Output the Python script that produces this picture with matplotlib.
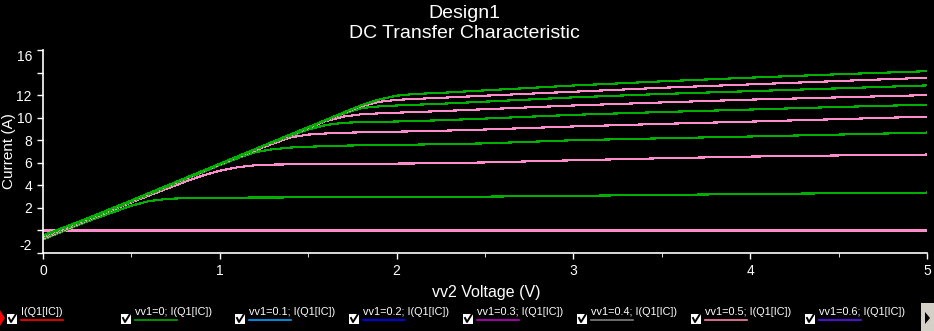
# -*- coding: utf-8 -*-
"""DC transfer characteristic of Design1, black scope-style plot."""

import matplotlib
matplotlib.use("Agg")
import matplotlib.pyplot as plt
from matplotlib.lines import Line2D
from matplotlib.patches import Rectangle, Polygon

plt.rcParams['font.family'] = ['Liberation Sans', 'DejaVu Sans']

# sweep voltage vv2 (V)
v_sweep = [0, 0.25, 0.5, 0.6, 0.7, 0.8, 0.9, 1.0, 1.1, 1.2, 1.3, 1.4, 1.5,
           1.6, 1.7, 1.8, 1.9, 2.0, 2.1, 2.25, 2.5, 3.0, 3.5, 4.0, 4.5, 5.0]

# collector currents (A), bottom curve first
i_c0 = [0.0] * len(v_sweep)
i_c1 = [-0.8, 0.8, 2.2, 2.6, 2.8, 2.86, 2.89, 2.9, 2.91, 2.92, 2.92, 2.93,
        2.93, 2.94, 2.94, 2.95, 2.95, 2.96, 2.97, 2.98, 3.0, 3.07, 3.15,
        3.23, 3.3, 3.36]
i_c2 = [-0.72, 0.9, 2.5, 3.1, 3.7, 4.3, 4.85, 5.3, 5.6, 5.78, 5.84, 5.86,
        5.88, 5.89, 5.9, 5.91, 5.92, 5.93, 5.94, 5.97, 6.03, 6.22, 6.4,
        6.55, 6.65, 6.73]
i_c3 = [-0.65, 0.95, 2.55, 3.2, 3.85, 4.5, 5.15, 5.8, 6.4, 6.95, 7.2, 7.35,
        7.42, 7.48, 7.52, 7.55, 7.57, 7.59, 7.61, 7.65, 7.72, 8.0, 8.17,
        8.33, 8.5, 8.68]
i_c4 = [-0.6, 1.0, 2.6, 3.25, 3.9, 4.55, 5.2, 5.85, 6.5, 7.1, 7.7, 8.25,
        8.5, 8.6, 8.66, 8.7, 8.73, 8.76, 8.79, 8.84, 8.95, 9.22, 9.45, 9.65,
        9.87, 10.09]
i_c5 = [-0.58, 1.0, 2.6, 3.25, 3.9, 4.55, 5.2, 5.85, 6.5, 7.15, 7.8, 8.4,
        8.95, 9.35, 9.55, 9.6, 9.63, 9.66, 9.7, 9.77, 9.92, 10.25, 10.5,
        10.72, 10.95, 11.15]
i_c6 = [-0.55, 1.02, 2.62, 3.27, 3.92, 4.57, 5.22, 5.87, 6.52, 7.17, 7.82,
        8.45, 9.08, 9.7, 10.1, 10.3, 10.38, 10.44, 10.5, 10.58, 10.75, 11.08,
        11.35, 11.6, 11.8, 12.0]
i_c7 = [-0.52, 1.03, 2.63, 3.28, 3.93, 4.58, 5.23, 5.88, 6.53, 7.18, 7.83,
        8.47, 9.1, 9.75, 10.35, 10.85, 11.0, 11.08, 11.14, 11.23, 11.42,
        11.8, 12.1, 12.35, 12.6, 12.86]
i_c8 = [-0.48, 1.05, 2.65, 3.3, 3.95, 4.6, 5.25, 5.9, 6.55, 7.2, 7.85, 8.5,
        9.13, 9.78, 10.42, 11.02, 11.4, 11.58, 11.66, 11.76, 11.95, 12.3,
        12.65, 12.95, 13.25, 13.54]
i_c9 = [-0.45, 1.06, 2.66, 3.31, 3.96, 4.61, 5.26, 5.91, 6.56, 7.21, 7.86,
        8.51, 9.15, 9.8, 10.45, 11.1, 11.6, 11.95, 12.1, 12.2, 12.42, 12.85,
        13.22, 13.55, 13.85, 14.12]

curves = [i_c0, i_c1, i_c2, i_c3, i_c4, i_c5, i_c6, i_c7, i_c8, i_c9]

y_ticks = [-2, 0, 2, 4, 6, 8, 10, 12, 14, 16]
y_labels = ['-2', '', '2', '4', '6', '8', '10', '12', '', '16']

legend_labels = ['I(Q1[IC])', 'vv1=0; I(Q1[IC])', 'vv1=0.1; I(Q1[IC])',
                 'vv1=0.2; I(Q1[IC])', 'vv1=0.3; I(Q1[IC])',
                 'vv1=0.4; I(Q1[IC])', 'vv1=0.5; I(Q1[IC])',
                 'vv1=0.6; I(Q1[IC])']
legend_colors = ['#ff0000', '#00a800', '#00a2ff', '#0000ff', '#c000c0',
                 '#808080', '#ff80a8', '#6010ff']

W, H = 934, 331


def px(x, y):
    """Pixel position (from top-left) to figure fraction."""
    return x / W, 1 - y / H


def main():
    fig = plt.figure(figsize=(W / 100, H / 100), dpi=100, facecolor='black')
    ax = fig.add_axes([43 / W, 1 - 253 / H, 884 / W, 203 / H])
    ax.set_facecolor('black')

    green = '#00b000'
    pink = '#ff8ccc'
    for k, cur in enumerate(curves):
        ax.plot(v_sweep, cur, color=pink if k % 2 == 0 else green,
                lw=0.8, antialiased=False, solid_capstyle='butt')

    ax.set_xlim(0, 5)
    ax.set_ylim(-2, 16)
    ax.set_xticks([0, 1, 2, 3, 4, 5])
    ax.set_xticks([0.5, 1.5, 2.5, 3.5, 4.5], minor=True)
    ax.set_yticks(y_ticks)
    ax.set_yticklabels(y_labels)
    for lab, val in zip(ax.get_yticklabels(), y_ticks):
        if val == 16:
            lab.set_va('top')
        elif val == -2:
            lab.set_va('bottom')

    for side in ['top', 'right']:
        ax.spines[side].set_visible(False)
    for side in ['left', 'bottom']:
        ax.spines[side].set_color('white')
        ax.spines[side].set_linewidth(1.2)
    ax.tick_params(colors='white', labelcolor='white', labelsize=10,
                   length=4, width=1)
    ax.tick_params(axis='x', which='minor', colors='white', length=3)
    ax.tick_params(axis='x', pad=4)
    ax.tick_params(axis='y', pad=4)

    ax.set_ylabel('Current (A)', color='white', fontsize=11)
    ax.yaxis.set_label_coords(-0.030, 0.5)
    ax.set_xlabel('vv2 Voltage (V)', color='white', fontsize=11.5)
    ax.xaxis.set_label_coords(0.501, -0.16)

    fig.text(*px(464, 13), 'Design1', color='white', fontsize=14,
             ha='center', va='center')
    fig.text(*px(464, 34), 'DC Transfer Characteristic', color='white',
             fontsize=14, ha='center', va='center')

    # legend strip along the bottom
    for k, (lab, col) in enumerate(zip(legend_labels, legend_colors)):
        x0 = 7 + k * 114
        fig.patches.append(Rectangle(px(x0, 324), 10 / W, 10 / H,
                                     transform=fig.transFigure,
                                     facecolor='white', edgecolor='none'))
        cx = [x0 + 2, x0 + 4, x0 + 9]
        cy = [318, 322, 314]
        fig.lines.append(Line2D([c / W for c in cx], [1 - c / H for c in cy],
                                transform=fig.transFigure, color='black',
                                lw=1.4))
        fig.text(*px(x0 + 14, 312), lab, color='white', fontsize=7.8,
                 ha='left', va='center')
        fig.lines.append(Line2D([(x0 + 14) / W, (x0 + 56) / W],
                                [1 - 320 / H, 1 - 320 / H],
                                transform=fig.transFigure, color=col, lw=1.2))

    fig.patches.append(Polygon([px(0, 310), px(5, 318), px(0, 326)],
                               closed=True, transform=fig.transFigure,
                               facecolor='#ff0000', edgecolor='none'))
    fig.patches.append(Rectangle(px(921, 331), 13 / W, 28 / H,
                                 transform=fig.transFigure,
                                 facecolor='#d4d0c8', edgecolor='none'))
    fig.patches.append(Polygon([px(925, 312), px(930, 318), px(925, 324)],
                               closed=True, transform=fig.transFigure,
                               facecolor='black', edgecolor='none'))

    fig.savefig('out.png', dpi=100, facecolor='black')


if __name__ == "__main__":
    main()
